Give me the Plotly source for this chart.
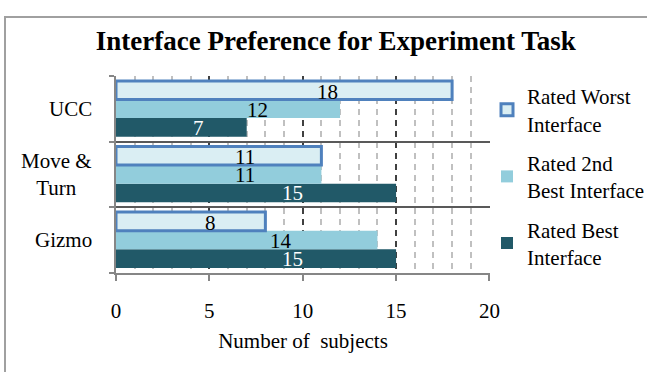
import plotly.graph_objects as go

categories = ["UCC", "Move & Turn", "Gizmo"]
category_labels = ["UCC", "Move &<br>Turn", "Gizmo"]
rated_worst = [18, 11, 8]
rated_2nd_best = [12, 11, 14]
rated_best = [7, 15, 15]
x_ticks = [0, 5, 10, 15, 20]

FONT = "Liberation Serif, Times New Roman, serif"

series = [
    ("Rated Best<br>Interface", rated_best, "#215968", dict(color="#215968", width=0), "white", -19, 3),
    ("Rated 2nd<br>Best Interface", rated_2nd_best, "#92CDDC", dict(color="#92CDDC", width=0), "black", -1, 2),
    ("Rated Worst<br>Interface", rated_worst, "#DAEEF3", dict(color="#4F81BD", width=3), "black", 17, 1),
]

fig = go.Figure()
annotations = []
for i, (name, vals, fill, line, tcol, ysh, rank) in enumerate(series):
    fig.add_trace(go.Bar(
        y=categories, x=vals, orientation="h", name=name,
        marker=dict(color=fill, line=line), legendgroup=str(i),
        legendrank=rank,
    ))
    for c, v in zip(categories, vals):
        annotations.append(dict(
            x=v * 0.63, y=c, xref="x", yref="y", text=str(v), showarrow=False,
            font=dict(family=FONT, size=21, color=tcol), yshift=ysh,
        ))

for c, lab in zip(categories, category_labels):
    annotations.append(dict(
        x=0, y=c, xref="paper", yref="y", text=lab, showarrow=False,
        xanchor="right", align="center", xshift=-22,
        font=dict(family=FONT, size=21, color="black"),
    ))

fig.update_layout(
    width=647, height=372,
    margin=dict(l=116, r=157, t=76, b=99, autoexpand=False),
    paper_bgcolor="white", plot_bgcolor="white",
    barmode="group", bargap=0.15, bargroupgap=0,
    font=dict(family=FONT, size=21, color="black"),
    title=dict(text="<b>Interface Preference for Experiment Task</b>",
               x=0.519, xref="container", xanchor="center",
               y=0.892, yanchor="middle",
               font=dict(family=FONT, size=27, color="black")),
    legend=dict(x=0.992, y=1.0, xanchor="left", yanchor="top",
                traceorder="grouped", tracegroupgap=9,
                font=dict(family=FONT, size=21, color="black"),
                itemwidth=30, bgcolor="rgba(0,0,0,0)"),
    annotations=annotations,
    showlegend=True,
    shapes=[
        dict(type="rect", xref="paper", yref="paper",
             x0=-0.2968, x1=1.5, y0=-0.6, y1=1.30,
             line=dict(color="#a0a0a0", width=2), fillcolor="rgba(0,0,0,0)",
             layer="below"),
    ],
)

fig.update_xaxes(
    range=[0, 20.03], tickvals=x_ticks, ticktext=[str(t) for t in x_ticks],
    showgrid=True, gridcolor="#404040", griddash="6px,5px", gridwidth=1.5,
    minor=dict(dtick=1, showgrid=True, gridcolor="#c0c0c0", griddash="6px,5px", gridwidth=1.5),
    showline=True, linecolor="#868686", linewidth=1.5,
    ticks="outside", ticklen=6, tickcolor="#868686", tickwidth=1.5,
    zeroline=False, ticklabelstandoff=12,
    title=dict(text="Number of  subjects", standoff=11,
               font=dict(family=FONT, size=21, color="black")),
    tickfont=dict(family=FONT, size=21, color="black"),
)
fig.update_yaxes(
    categoryorder="array", categoryarray=categories[::-1],
    tickson="boundaries", showgrid=True, gridcolor="#595959", gridwidth=1.5,
    showline=True, linecolor="#868686", linewidth=1.5,
    ticks="outside", ticklen=5, tickcolor="#868686", tickwidth=1.5,
    showticklabels=False, zeroline=False,
)

fig.write_html("out.html", config={"displayModeBar": False},
               post_script="document.body.style.margin='0px';")
